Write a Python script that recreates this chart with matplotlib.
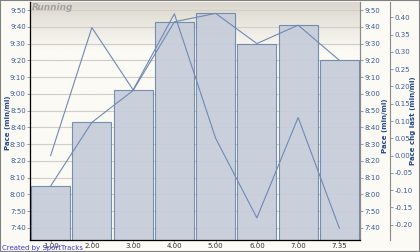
import numpy as np
import matplotlib
matplotlib.use('Agg')
import matplotlib.pyplot as plt
from matplotlib.ticker import FixedLocator, FuncFormatter

# Данные по кругам
laps = ['1.00', '2.00', '3.00', '4.00', '5.00', '6.00', '7.00', '7.35']
pace = ['8:05', '8:43', '9:02', '9:43', '9:48', '9:30', '9:41', '9:20']
pace_chg = [0.00, 0.37, 0.19, 0.41, 0.05, -0.18, 0.11, -0.21]


def to_min(s):
    m, sec = s.split(':')
    return int(m) + int(sec) / 60.0


def fmt_pace(v, pos=None):
    total = int(round(v * 60))
    return '%d:%02d' % (total // 60, total % 60)


pace_min = np.array([to_min(p) for p in pace])
x = np.arange(len(laps))

bg = '#fbfaf4'
bar_fill = '#c6ccda'
bar_edge = '#6e86aa'
line_col = '#6f89b6'
tick_col = '#3b5b9b'
label_col = '#24468c'
spine_col = '#8a8a8a'

fig = plt.figure(figsize=(4.2, 2.52), dpi=100)
fig.patch.set_facecolor(bg)
ax = fig.add_axes([30 / 420, 12 / 252, 330 / 420, 238 / 252])
ax.set_facecolor(bg)

ylo, yhi = to_min('7:32') + 0.8 / 60, to_min('9:54') + 0.8 / 60

# градиент сверху
grad = np.linspace(0, 1, 100).reshape(-1, 1)
ax.imshow(grad, extent=(-0.5, 7.5, ylo, yhi), aspect='auto', zorder=0,
          cmap=matplotlib.colors.LinearSegmentedColormap.from_list(
              'g', [(0, bg), (0.8, bg), (1, '#dcd8cf')]), origin='lower')

ticks = np.arange(to_min('7:40'), to_min('9:50') + 0.001, 10 / 60)
for t in ticks:
    ax.axhline(t, color='#cfcdc6', lw=0.8, zorder=1)

ax.bar(x, pace_min - ylo, bottom=ylo, width=0.94, color=bar_fill,
       edgecolor=bar_edge, linewidth=0.8, alpha=0.92, zorder=2)
ax.plot(x, pace_min, color=line_col, lw=0.8, zorder=3)

ax.set_xlim(-0.5, 7.5)
ax.set_ylim(ylo, yhi)
ax.set_xticks(x)
ax.set_xticklabels(laps)
ax.yaxis.set_major_locator(FixedLocator(ticks))
ax.yaxis.set_major_formatter(FuncFormatter(fmt_pace))
ax.tick_params(axis='both', labelsize=5, colors=spine_col, labelcolor=tick_col,
               length=2, width=0.6, pad=1)
ax.tick_params(axis='x', labelcolor='#333333', pad=0.5)
for s in ax.spines.values():
    s.set_color(spine_col)
    s.set_linewidth(0.8)
ax.spines['top'].set_visible(False)

ax2 = ax.twinx()
ax2.set_ylim(ylo, yhi)
ax2.yaxis.set_major_locator(FixedLocator(ticks))
ax2.yaxis.set_major_formatter(FuncFormatter(fmt_pace))
ax2.tick_params(axis='y', labelsize=5, colors=spine_col, labelcolor=tick_col,
                length=2, width=0.6, pad=1)
ax2.spines['right'].set_color(spine_col)
ax2.spines['top'].set_visible(False)

ax3 = ax.twinx()
ax3.spines['right'].set_position(('axes', 1 + 30 / 330))
ax3.spines['right'].set_color(spine_col)
ax3.spines['top'].set_visible(False)
ax3.plot(x, pace_chg, color=line_col, lw=0.8, zorder=4)
ax3.set_ylim(-0.244, 0.444)
ax3.yaxis.set_major_locator(FixedLocator(np.arange(-0.20, 0.401, 0.05)))
ax3.yaxis.set_major_formatter(FuncFormatter(lambda v, p: '%.2f' % (0.0 if abs(v) < 1e-9 else v)))
ax3.tick_params(axis='y', labelsize=5, colors=spine_col, labelcolor=tick_col,
                length=2, width=0.6, pad=1)

# подписи осей
lab = dict(fontsize=5, fontweight='bold', color=label_col, rotation=90,
           ha='center', va='center')
fig.text(8 / 420, 1 - 123 / 252, 'Pace (min/mi)', **lab)
fig.text(385 / 420, 1 - 126 / 252, 'Pace (min/mi)', **lab)
fig.text(413 / 420, 1 - 121 / 252, 'Pace chg last (min/mi)', **lab)

ax.text(0.004, 0.997, 'Running', transform=ax.transAxes, ha='left', va='top',
        fontsize=6.5, style='italic', fontweight='bold', color='#a0a0a0', zorder=5)
fig.text(2 / 420, 1 - 248 / 252, 'Created by SportTracks', ha='left', va='center',
         fontsize=5, color='#3a3ad0')

fig.patches.append(plt.Rectangle((0, 0), 1, 1, transform=fig.transFigure, fill=False,
                                 edgecolor='#808080', linewidth=1.5))

fig.savefig('out.png', dpi=100, facecolor=bg)
